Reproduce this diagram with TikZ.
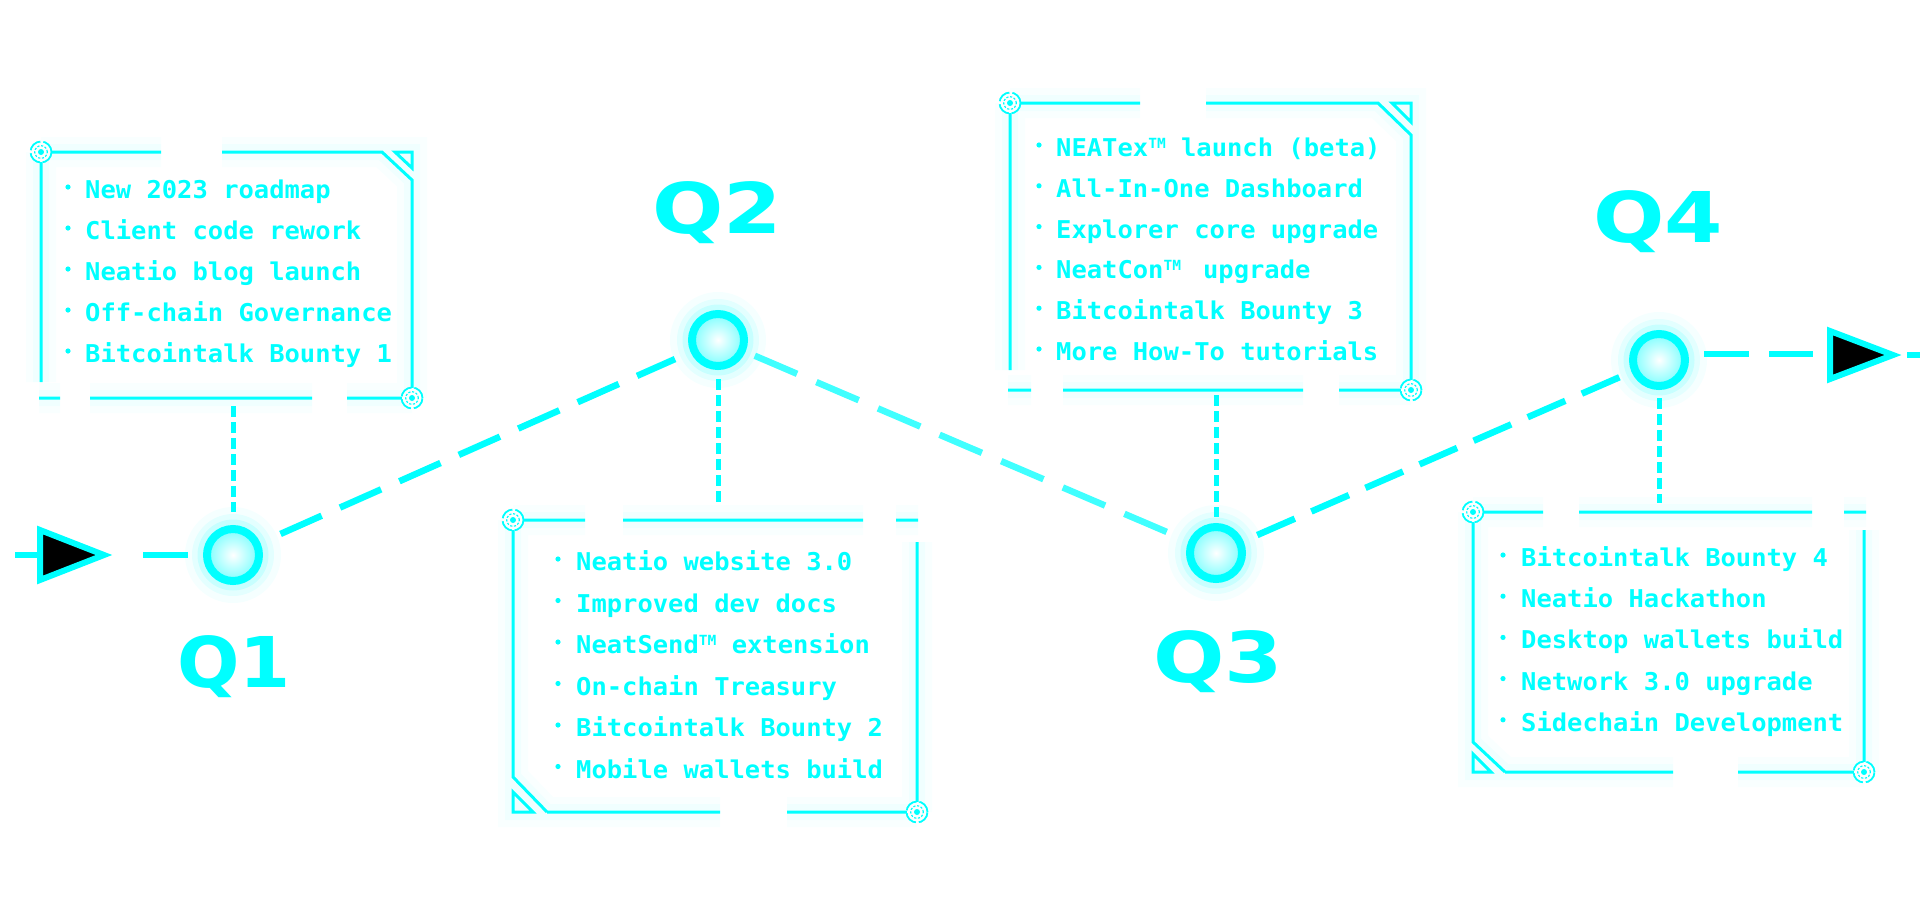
\documentclass[tikz,border=0pt]{standalone}
\usepackage{fontspec}
\usepackage{graphicx}
\newfontfamily\itemfont{DejaVu Sans Mono}[FakeStretch=1.04]
\newfontfamily\qfont{DejaVu Sans}
\definecolor{neon}{RGB}{0,255,255}
\definecolor{neonl}{RGB}{64,255,255}
\newcommand\tm{\raisebox{8pt}{\fontsize{14}{14}\selectfont TM}}
\newcommand\boxring[1]{%
  \fill[white] (#1) circle (10pt);
  \draw[neon, line width=1.8pt, dash pattern=on 14pt off 3pt] (#1) circle (10.5pt);
  \draw[neon, line width=1.2pt, dash pattern=on 2.2pt off 1.6pt] (#1) circle (6.3pt);
  \fill[neon] (#1) circle (3pt);}
% #1 bullet x, #2 text x, #3 first centre y, #4 spacing, #5 name prefix, #6 list
\newcommand\roadmapitems[6]{%
  \foreach \t [count=\i from 0] in {#6} {
    \fill[neon] ({#1},{#3+\i*#4-3}) circle (2.6pt);
    \node[item, anchor=base west] (#5-\i) at ({#2},{#3+\i*#4+8.5}) {\t};
  }}
\begin{document}
\begin{tikzpicture}[x=1pt, y=-1pt,
  item/.style={text=neon, font=\itemfont\bfseries\fontsize{24.5}{28}\selectfont, inner sep=0pt},
  qlabel/.style={text=neon, font=\qfont\bfseries\fontsize{70}{70}\selectfont, inner sep=0pt, anchor=base},
  milestone/.style={circle, draw=neon, line width=8pt, minimum size=52pt, inner sep=0pt, outer sep=4pt},
  mainline/.style={draw=neon, line width=6.5pt},
  vconn/.style={draw=neon, line width=5pt, dash pattern=on 11pt off 5pt},
  tri/.style={draw=neon, fill=black, line width=6pt, line join=miter},
  boxline/.style={draw=neon, line width=3pt,
     preaction={draw=neon, line width=30pt, draw opacity=0.025},
     preaction={draw=neon, line width=16pt, draw opacity=0.035}}]
\useasboundingbox (0,0) rectangle (1920,898);
\fill[white] (0,0) rectangle (1920,898);

% ---------- boxes ----------
% Q1 box
\draw[boxline] (41,152)--(161,152) (222,152)--(382,152)--(412,180)--(412,398)
  (41,152)--(41,382) (39,398)--(60,398) (90,398)--(312,398) (347,398)--(412,398)
  (395,152)--(412,152)--(412,168)--cycle;
\boxring{41,152}\boxring{412,398}
% Q2 box
\draw[boxline] (513,520)--(585,520) (623,520)--(863,520) (896,520)--(918,520)
  (917,542)--(917,812) (547,812)--(720,812) (787,812)--(917,812)
  (513,520)--(513,777)--(547,812)
  (513,792)--(513,812)--(533,812)--cycle;
\boxring{513,520}\boxring{917,812}
% Q3 box
\draw[boxline] (1010,103)--(1140,103) (1206,103)--(1378,103)--(1411,135)--(1411,390)
  (1010,103)--(1010,370) (1008,390)--(1031,390) (1063,390)--(1303,390) (1339,390)--(1411,390)
  (1392,103)--(1411,103)--(1411,122)--cycle;
\boxring{1010,103}\boxring{1411,390}
% Q4 box
\draw[boxline] (1473,512)--(1543,512) (1579,512)--(1812,512) (1844,512)--(1866,512)
  (1864,530)--(1864,772) (1505,772)--(1673,772) (1738,772)--(1864,772)
  (1473,512)--(1473,742)--(1505,772)
  (1473,754)--(1473,772)--(1491,772)--cycle;
\boxring{1473,512}\boxring{1864,772}

% ---------- items ----------
\roadmapitems{68}{85}{190}{41}{qa}{New 2023 roadmap, Client code rework, Neatio blog launch,
  Off-chain Governance, Bitcointalk Bounty 1}
\roadmapitems{558}{576}{562}{41.5}{qb}{Neatio website 3.0, Improved dev docs,
  NeatSend\tm{} extension, On-chain Treasury, Bitcointalk Bounty 2, Mobile wallets build}
\roadmapitems{1039}{1056}{148}{40.8}{qc}{NEATex\tm{} launch (beta), All-In-One Dashboard,
  Explorer core upgrade, NeatCon\tm\hspace{22pt}upgrade, Bitcointalk Bounty 3, More How-To tutorials}
\roadmapitems{1503}{1521}{558}{41.2}{qd}{Bitcointalk Bounty 4, Neatio Hackathon,
  Desktop wallets build, Network 3.0 upgrade, Sidechain Development}

% ---------- milestones ----------
\coordinate (p1) at (233,555);
\coordinate (p2) at (718,340);
\coordinate (p3) at (1216,553);
\coordinate (p4) at (1659,360);
\foreach \n in {p1,p2,p3,p4} {
  \fill[neon, opacity=0.04] (\n) circle (48pt);
  \fill[neon, opacity=0.07] (\n) circle (41pt);
  \fill[neon, opacity=0.12] (\n) circle (35.5pt);
  \shade[inner color=white, outer color=neon!45] (\n) circle (23pt);
}
\node[milestone] (c1) at (p1) {};
\node[milestone] (c2) at (p2) {};
\node[milestone] (c3) at (p3) {};
\node[milestone] (c4) at (p4) {};

% ---------- main dashed path ----------
\draw[mainline, dash pattern=on 45pt off 20pt, shorten <=22pt, shorten >=17pt] (c1) -- (c2);
\draw[mainline, draw=neonl, dash pattern=on 46pt off 21pt, shorten <=10pt, shorten >=23pt] (c2) -- (c3);
\draw[mainline, dash pattern=on 41pt off 18pt, shorten <=15pt, shorten >=10pt] (c3) -- (c4);

% ---------- vertical connectors ----------
\coordinate (b1) at (233,398);
\coordinate (b2) at (718,520);
\coordinate (b3) at (1216,390);
\coordinate (b4) at (1659,512);
\draw[vconn, shorten <=8pt, shorten >=13pt] (b1) -- (c1);
\draw[vconn, shorten <=9pt, shorten >=15pt] (c2) -- (b2);
\draw[vconn, shorten <=5pt, shorten >=6pt] (b3) -- (c3);
\draw[vconn, shorten <=8pt, shorten >=9pt] (c4) -- (b4);

% ---------- start arrow ----------
\coordinate (ls) at (15,555);
\coordinate (lb) at (40,555);
\coordinate (lt1) at (40,530);
\coordinate (lt2) at (40,580);
\coordinate (ltip) at (104,555);
\draw[mainline] (ls) -- (lb);
\filldraw[tri] (lt1) -- (ltip) -- (lt2) -- cycle;
\draw[mainline, dash pattern=on 45pt off 200pt, shorten <=39pt, shorten >=15pt] (ltip) -- (c1);

% ---------- end arrow ----------
\coordinate (r0) at (1690,354);
\coordinate (r1) at (1827,354);
\coordinate (rt1) at (1830,331);
\coordinate (rt2) at (1830,379);
\coordinate (rtip) at (1893,355);
\coordinate (re) at (1925,355);
\draw[mainline, dash pattern=on 45pt off 20pt, shorten <=14pt, shorten >=14pt] (r0) -- (r1);
\filldraw[tri] (rt1) -- (rtip) -- (rt2) -- cycle;
\draw[mainline, shorten <=14pt] (rtip) -- (re);

% ---------- quarter labels ----------
\node[qlabel] (q1) at (234,687) {\scalebox{1.05}[1]{Q1}};
\node[qlabel] (q2) at (717,233) {\scalebox{1.2}[1]{Q2}};
\node[qlabel] (q3) at (1218,682) {\scalebox{1.2}[1]{Q3}};
\node[qlabel] (q4) at (1658,242) {\scalebox{1.2}[1]{Q4}};
\end{tikzpicture}
\end{document}
